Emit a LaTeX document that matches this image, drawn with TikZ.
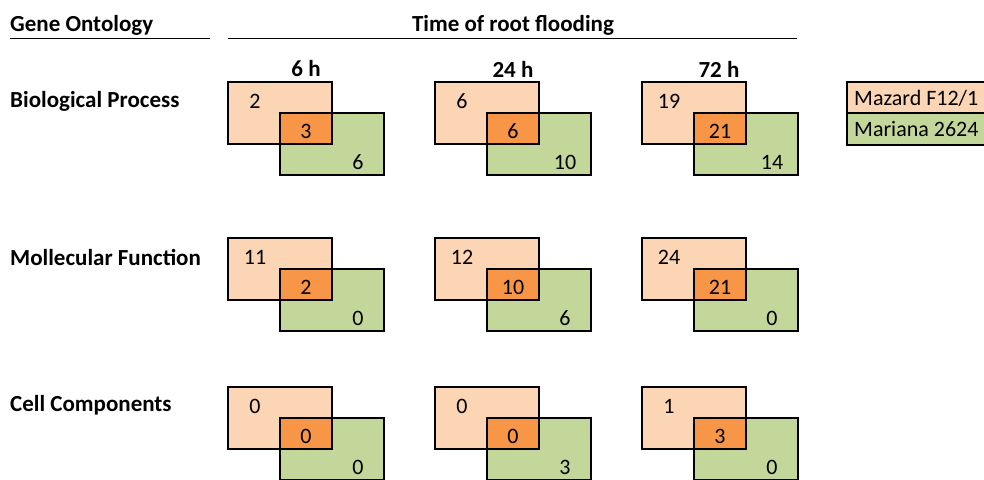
\documentclass[tikz,border=0pt]{standalone}
\usepackage{fontspec}
\setmainfont{Carlito}
\definecolor{peach}{HTML}{FCD5B4}
\definecolor{ovl}{HTML}{F79646}
\definecolor{grn}{HTML}{C4D79B}
\begin{document}
\begin{tikzpicture}[x=1pt,y=-1pt,
  hdr/.style={font=\fontsize{23}{26}\selectfont\bfseries, inner sep=0pt},
  num/.style={font=\fontsize{22}{25}\selectfont, inner sep=0pt},
  box/.style={draw=black, line width=1.2pt}]
\useasboundingbox (0,0) rectangle (984,479);
% headers
\node[hdr, anchor=west] (go) at (10,25) {Gene Ontology};
\node[hdr] (time) at (513,25) {Time of root flooding};
\draw[line width=1pt] (10,38) -- (210,38);
\draw[line width=1pt] (228,38) -- (797,38);
\node[hdr] (t6) at (306,69) {6 h};
\node[hdr] (t24) at (513,69) {24 h};
\node[hdr] (t72) at (719,69) {72 h};
% row labels
\node[hdr, anchor=west] (r1) at (10,101) {Biological Process};
\node[hdr, anchor=west] (r2) at (10,257) {Mollecular Function};
\node[hdr, anchor=west] (r3) at (10,405) {Cell Components};
% venn groups
\foreach \top in {82,238,387}{
  \foreach \left in {228,435,642}{
    \fill[peach] (\left,\top) rectangle ++(104,62);
    \fill[grn] (\left+52,\top+31) rectangle ++(104,62);
    \fill[ovl] (\left+52,\top+31) rectangle (\left+104,\top+62);
    \draw[box] (\left,\top) rectangle ++(104,62);
    \draw[box] (\left+52,\top+31) rectangle ++(104,62);
  }
}
\newcommand{\venn}[6]{% left, top, a, b, c, tag
  \node[num] (a#6) at (#1+27,#2+19) {#3};
  \node[num] (b#6) at (#1+78,#2+49) {#4};
  \node[num] (c#6) at (#1+130,#2+80) {#5};
}
\venn{228}{82}{2}{3}{6}{11}
\venn{435}{82}{6}{6}{10}{12}
\venn{642}{82}{19}{21}{14}{13}
\venn{228}{238}{11}{2}{0}{21}
\venn{435}{238}{12}{10}{6}{22}
\venn{642}{238}{24}{21}{0}{23}
\venn{228}{387}{0}{0}{0}{31}
\venn{435}{387}{0}{0}{3}{32}
\venn{642}{387}{1}{3}{0}{33}
% legend
\fill[peach] (847,82) rectangle (990,113);
\fill[grn] (847,113) rectangle (990,145);
\draw[box] (990,82) -- (847,82) -- (847,145) -- (990,145);
\draw[box] (847,113) -- (990,113);
\node[num, anchor=west] (lm) at (854,98) {Mazard F12/1};
\node[num, anchor=west] (lg) at (854,129) {Mariana 2624};
\end{tikzpicture}
\end{document}
